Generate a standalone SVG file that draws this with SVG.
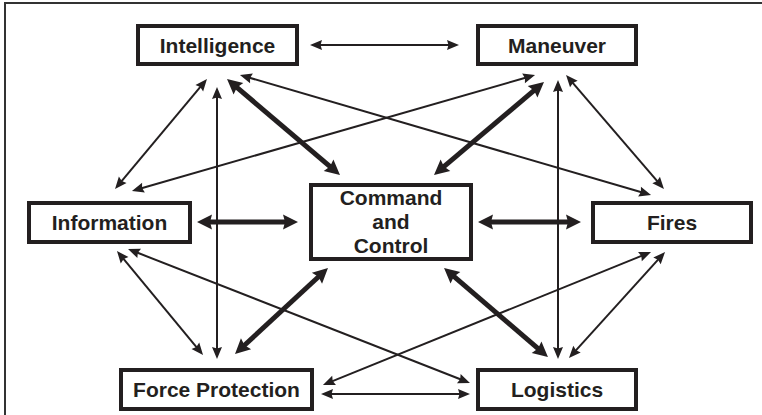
<svg xmlns="http://www.w3.org/2000/svg" width="762" height="415" viewBox="0 0 762 415">
<style>
.box{fill:#fff;stroke:#231f20;stroke-width:4}
.lbl{font-family:"Liberation Sans",Arial,sans-serif;font-weight:bold;font-size:21px;fill:#231f20;text-anchor:middle}
.thin{stroke:#231f20;stroke-width:2;fill:none;marker-start:url(#ah);marker-end:url(#ah)}
.thick{stroke:#231f20;stroke-width:5;fill:none;marker-start:url(#ahb);marker-end:url(#ahb)}
</style>
<defs>
<marker id="ah" markerUnits="userSpaceOnUse" orient="auto-start-reverse" refX="3" refY="0" markerWidth="14" markerHeight="12" overflow="visible">
<path d="M0,-5 L12,0 L0,5 L1.5,0 z" fill="#231f20"/>
</marker>
<marker id="ahb" markerUnits="userSpaceOnUse" orient="auto-start-reverse" refX="4" refY="0" markerWidth="16" markerHeight="16" overflow="visible">
<path d="M0,-7.5 L15,0 L0,7.5 L2,0 z" fill="#231f20"/>
</marker>
</defs>
<rect x="0" y="0" width="762" height="415" fill="#fff"/>
<path d="M5,415 V3 H762" fill="none" stroke="#333" stroke-width="2"/>
<g id="connectors">
<line class="thin" x1="319" y1="45" x2="450" y2="45"/>
<line class="thin" x1="330" y1="394" x2="461" y2="394"/>
<line class="thin" x1="201.2" y1="85.9" x2="120.8" y2="182.1"/>
<line class="thin" x1="217" y1="96" x2="217" y2="350"/>
<line class="thin" x1="248.6" y1="77.5" x2="642.4" y2="192.5"/>
<line class="thin" x1="526.4" y1="77.5" x2="140.6" y2="188.5"/>
<line class="thin" x1="558" y1="89" x2="558" y2="350"/>
<line class="thin" x1="571.9" y1="81.8" x2="658.1" y2="182.2"/>
<line class="thin" x1="122.7" y1="257.9" x2="197.3" y2="348.1"/>
<line class="thin" x1="136.4" y1="252.3" x2="461.6" y2="379.7"/>
<line class="thin" x1="642.7" y1="255.4" x2="331.3" y2="381.6"/>
<line class="thin" x1="659.0" y1="258.7" x2="575.0" y2="351.3"/>
<line class="thick" x1="208" y1="222" x2="287" y2="222"/>
<line class="thick" x1="489" y1="222" x2="570" y2="222"/>
<line class="thick" x1="235.4" y1="86.1" x2="331.6" y2="167.9"/>
<line class="thick" x1="535.6" y1="89.1" x2="442.4" y2="167.9"/>
<line class="thick" x1="319.9" y1="275.5" x2="243.1" y2="346.5"/>
<line class="thick" x1="452.4" y1="275.2" x2="539.6" y2="349.9"/>
</g>
<g id="intelligence">
<rect class="box" x="138" y="26" width="159" height="38"/>
<text class="lbl" x="217.5" y="52.5">Intelligence</text>
</g>
<g id="maneuver">
<rect class="box" x="478" y="26" width="158" height="38"/>
<text class="lbl" x="557" y="52.5">Maneuver</text>
</g>
<g id="information">
<rect class="box" x="29" y="203" width="161" height="39"/>
<text class="lbl" x="109.5" y="230">Information</text>
</g>
<g id="command-and-control">
<rect class="box" x="311" y="185" width="160" height="74"/>
<text class="lbl" x="391" y="205">Command</text>
<text class="lbl" x="391" y="229">and</text>
<text class="lbl" x="391" y="253">Control</text>
</g>
<g id="fires">
<rect class="box" x="593" y="203" width="158" height="39"/>
<text class="lbl" x="672" y="230">Fires</text>
</g>
<g id="force-protection">
<rect class="box" x="121" y="370" width="191" height="39"/>
<text class="lbl" x="216.5" y="397">Force Protection</text>
</g>
<g id="logistics">
<rect class="box" x="478" y="370" width="158" height="39"/>
<text class="lbl" x="557" y="397">Logistics</text>
</g>
</svg>
